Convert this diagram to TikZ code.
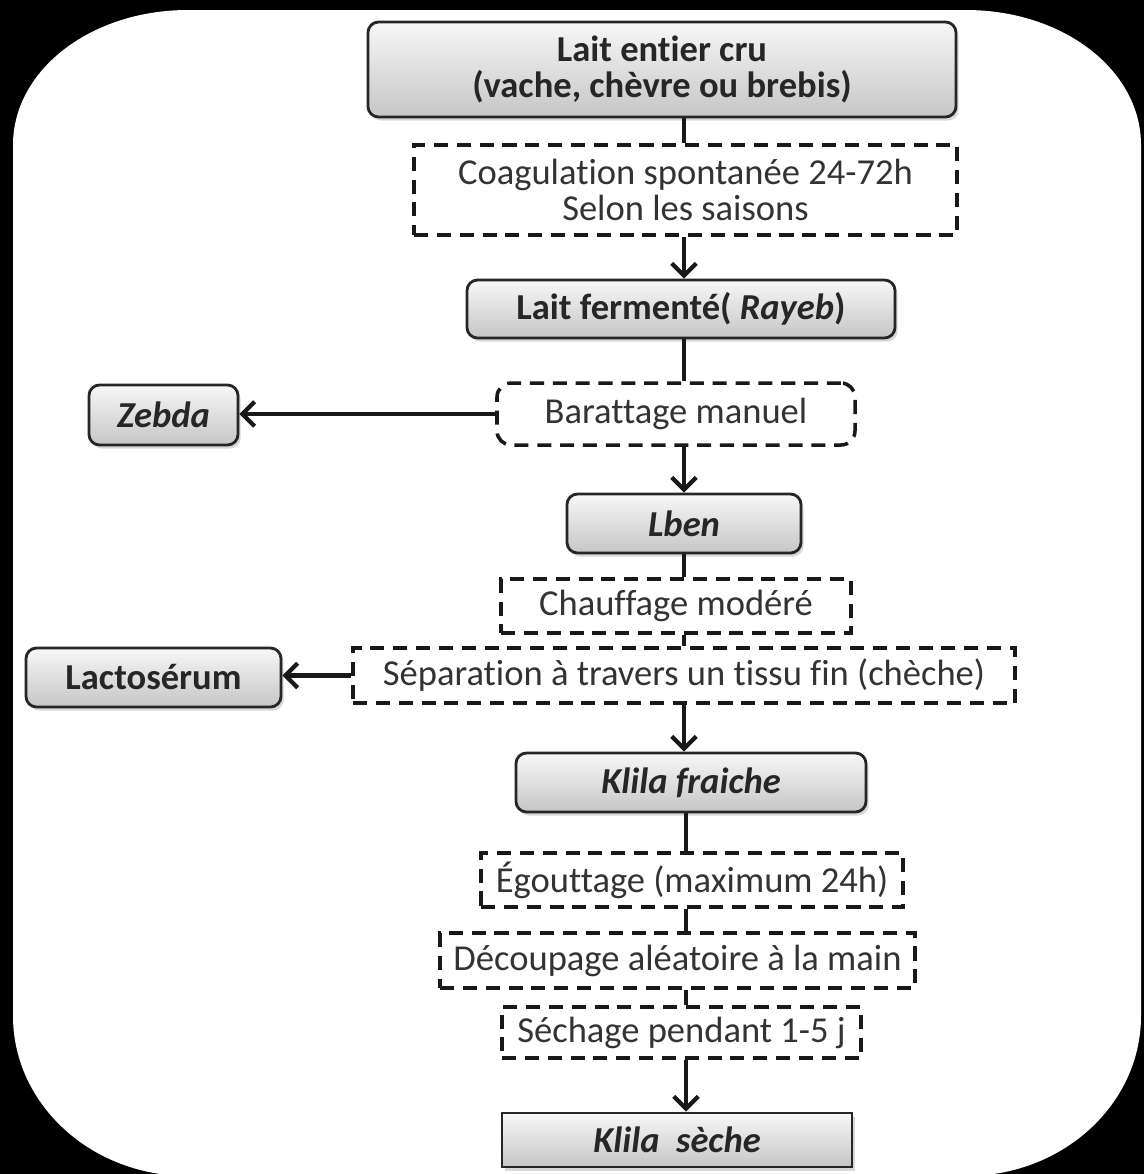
\documentclass[tikz,border=0pt]{standalone}
\usepackage{fontspec}
\setmainfont{Carlito}[Ligatures=CommonOff]
\usetikzlibrary{arrows.meta,shadows}
\begin{document}
\fontsize{20.8}{20}\selectfont
\begin{tikzpicture}[x=0.02cm,y=-0.02cm,
  boxsize/.style 2 args={minimum width=#1*0.02cm,minimum height=#2*0.02cm},
  stage/.style={draw=black!85,line width=1.6pt,rounded corners=6pt,
    top color=gray!6,bottom color=gray!45,
    drop shadow={opacity=0.3,shadow xshift=1.5pt,shadow yshift=-2pt},
    font=\bfseries,text=black!85,align=center,inner sep=0pt},
  stepbox/.style={draw=black!90,line width=2pt,dash pattern=on 8pt off 5pt,
    fill=white,text=black!80,align=center,inner sep=0pt},
  link/.style={line width=2.4pt,black!90},
  flow/.style={link,-{Straight Barb[length=7pt,width=14pt]}}]
  \useasboundingbox (0,0) rectangle (1144,1174);
  % frame
  \fill[black] (0,0) rectangle (1144,1174);
  \fill[white] (13,145) .. controls (13,70) and (91,10) .. (188,10) -- (966,10)
    .. controls (1063,10) and (1141,70) .. (1141,145) -- (1141,1016)
    .. controls (1141,1104) and (1063,1176) .. (966,1176) -- (188,1176)
    .. controls (91,1176) and (13,1104) .. (13,1016) -- cycle;
  % main line
  \node[stage,boxsize={588}{95}] (lait) at (662,69.5) {Lait entier cru\\(vache, chèvre ou brebis)};
  \node[stepbox,boxsize={543}{90}] (coag) at (685.5,190) {Coagulation spontanée 24-72h\\Selon les saisons};
  \node[stage,boxsize={428}{58}] (rayeb) at (681,309) {Lait fermenté( \textit{Rayeb})};
  \node[stepbox,rounded corners=8pt,boxsize={358}{62}] (barat) at (676,414) {Barattage manuel};
  \node[stage,boxsize={234}{59}] (lben) at (684,523.5) {\textit{Lben}};
  \node[stepbox,boxsize={350}{54}] (chauf) at (676,606) {Chauffage modéré};
  \node[stepbox,boxsize={662}{55}] (separ) at (684,675.5) {Séparation à travers un tissu fin (chèche)};
  \node[stage,boxsize={350}{59}] (fraiche) at (691,782.5) {\textit{Klila fraiche}};
  \node[stepbox,boxsize={422}{54}] (egout) at (692,880) {Égouttage (maximum 24h)};
  \node[stepbox,boxsize={475}{55}] (decoup) at (677.5,960.5) {Découpage aléatoire à la main};
  \node[stepbox,boxsize={359}{51}] (sechage) at (681.5,1032.5) {Séchage pendant 1-5 j};
  \node[stage,rounded corners=0pt,boxsize={350}{54}] (seche) at (677,1140) {\textit{Klila~ sèche}};
  % side products
  \node[stage,boxsize={149}{60}] (zebda) at (163.5,415) {\textit{Zebda}};
  \node[stage,boxsize={255}{59}] (lacto) at (153.5,677.5) {Lactosérum};
  % connectors
  \coordinate (axis) at (684,0);
  \coordinate (axis2) at (686,0);
  \draw[link] (lait.south -| axis) -- (coag.north -| axis);
  \draw[flow] (coag.south -| axis) -- (rayeb.north -| axis);
  \draw[link] (rayeb.south -| axis) -- (barat.north -| axis);
  \draw[flow] (barat.west) -- (barat.west -| zebda.east);
  \draw[flow] (barat.south -| axis) -- (lben.north -| axis);
  \draw[link] (lben.south -| axis) -- (chauf.north -| axis);
  \draw[link] (chauf.south -| axis) -- (separ.north -| axis);
  \draw[flow] (separ.west) -- (separ.west -| lacto.east);
  \draw[flow] (separ.south -| axis) -- (fraiche.north -| axis);
  \draw[link] (fraiche.south -| axis2) -- (egout.north -| axis2);
  \draw[link] (egout.south -| axis2) -- (decoup.north -| axis2);
  \draw[link] (decoup.south -| axis2) -- (sechage.north -| axis2);
  \draw[flow] (sechage.south -| axis2) -- (seche.north -| axis2);
\end{tikzpicture}
\end{document}
